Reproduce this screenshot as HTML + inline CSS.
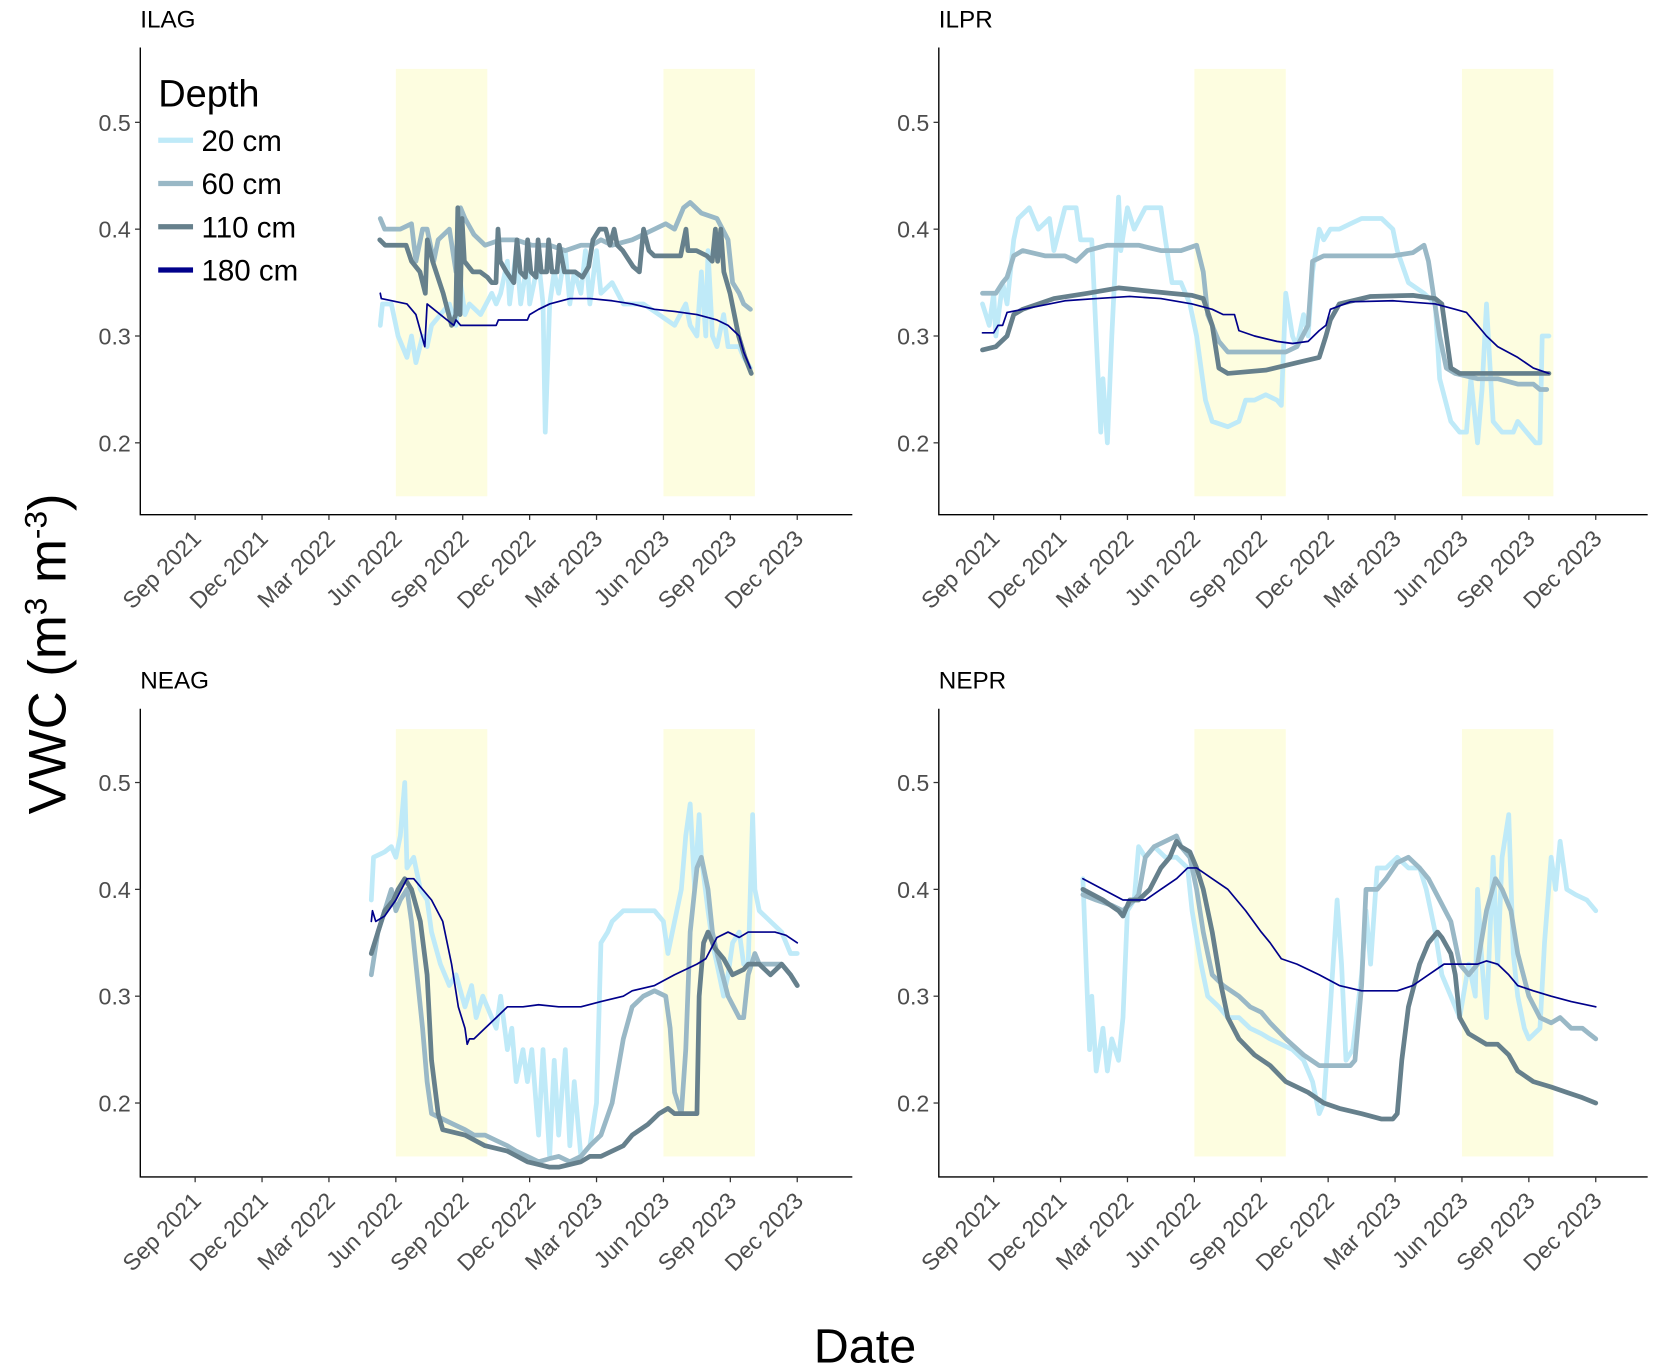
<!DOCTYPE html>
<html><head><meta charset="utf-8"><style>
html,body{margin:0;padding:0;background:#fff;}
svg{display:block;font-family:"Liberation Sans",Arial,sans-serif;}
</style></head><body>
<svg id="chart" width="1654" height="1371" viewBox="0 0 1568 1300" preserveAspectRatio="none" xmlns="http://www.w3.org/2000/svg"></svg>
<script>
// x values: months since 1 Sep 2021 (0 = Sep 2021, 3 = Dec 2021, ...)
const tickMonths = [0,3,6,9,12,15,18,21,24,27];
const tickLabels = ["Sep 2021","Dec 2021","Mar 2022","Jun 2022","Sep 2022","Dec 2022","Mar 2023","Jun 2023","Sep 2023","Dec 2023"];
const yTicks = [0.2,0.3,0.4,0.5];
const summerStart = [9,21];
const summerEnd = [13.1,25.1];
const depthLabels = ["20 cm","60 cm","110 cm","180 cm"];
const panelNames = ["ILAG","ILPR","NEAG","NEPR"];

const ilag20 = [[8.3,.31],[8.4,.33],[8.8,.33],[9.1,.30],[9.5,.28],[9.7,.30],[9.9,.275],[10.2,.30],[10.4,.29],[10.6,.31],[11.0,.32],[11.4,.33],[11.7,.31],[11.9,.35],[12.1,.32],[12.3,.33],[12.8,.32],[13.3,.34],[13.5,.33],[13.7,.34],[14.0,.37],[14.1,.33],[14.4,.38],[14.6,.33],[14.9,.37],[15.0,.33],[15.4,.37],[15.6,.33],[15.7,.21],[15.9,.33],[16.1,.36],[16.3,.34],[16.6,.38],[16.8,.33],[17.0,.36],[17.3,.34],[17.5,.38],[17.7,.33],[18.0,.38],[18.2,.34],[18.7,.35],[19.2,.33],[19.6,.33],[20.1,.33],[20.8,.32],[21.5,.31],[22.0,.33],[22.2,.31],[22.5,.30],[22.7,.36],[22.9,.30],[23.0,.38],[23.2,.30],[23.4,.29],[23.7,.32],[23.9,.29],[24.4,.29],[24.6,.28],[24.9,.27]];
const ilag60 = [[8.3,.41],[8.5,.40],[9.2,.40],[9.7,.405],[9.9,.37],[10.2,.40],[10.4,.40],[10.7,.37],[10.9,.39],[11.4,.40],[11.7,.36],[11.9,.42],[12.1,.41],[12.5,.395],[13.0,.385],[13.7,.39],[14.4,.39],[15.1,.385],[15.9,.385],[16.6,.38],[17.3,.385],[17.8,.385],[18.2,.39],[18.7,.385],[19.6,.39],[20.6,.40],[21.1,.405],[21.5,.40],[21.9,.42],[22.2,.425],[22.7,.415],[23.4,.41],[23.9,.39],[24.1,.35],[24.4,.34],[24.6,.33],[24.9,.325]];
const ilag110 = [[8.28,.39],[8.52,.385],[9.46,.385],[9.70,.37],[10.08,.36],[10.32,.34],[10.41,.39],[10.65,.37],[11.12,.34],[11.50,.31],[11.69,.32],[11.78,.42],[11.88,.32],[11.97,.41],[12.07,.37],[12.45,.36],[12.78,.36],[13.11,.355],[13.30,.35],[13.49,.35],[13.58,.40],[13.68,.37],[13.96,.36],[14.29,.35],[14.43,.39],[14.58,.36],[14.81,.355],[14.91,.39],[15.05,.36],[15.29,.355],[15.38,.39],[15.52,.36],[15.76,.36],[15.85,.39],[16.00,.36],[16.23,.36],[16.33,.385],[16.56,.36],[17.04,.36],[17.37,.355],[17.65,.365],[17.84,.39],[18.13,.40],[18.41,.40],[18.60,.385],[18.79,.40],[18.93,.385],[19.17,.38],[19.64,.365],[19.92,.36],[20.11,.40],[20.35,.38],[20.59,.375],[20.97,.375],[21.77,.375],[22.01,.40],[22.10,.38],[22.48,.38],[22.95,.375],[23.19,.37],[23.33,.40],[23.43,.37],[23.57,.40],[23.71,.36],[23.99,.34],[24.37,.30],[24.66,.28],[24.94,.265]];
const ilag180 = [[8.3,.34],[8.35,.335],[9.5,.33],[9.9,.32],[10.3,.29],[10.4,.33],[11.6,.31],[11.7,.315],[11.9,.31],[12.1,.31],[12.3,.31],[13.0,.31],[13.5,.31],[13.6,.315],[14.9,.315],[15.0,.32],[15.4,.325],[15.9,.33],[16.8,.335],[17.7,.335],[18.7,.333],[19.6,.33],[20.6,.325],[21.5,.323],[22.5,.32],[23.4,.315],[23.9,.31],[24.4,.30],[24.6,.285],[24.9,.27]];

const ilpr20 = [[-0.5,.33],[-0.2,.31],[0,.34],[0.1,.30],[0.4,.35],[0.6,.33],[0.9,.39],[1.1,.41],[1.6,.42],[2.0,.40],[2.5,.41],[2.7,.38],[3.2,.42],[3.7,.42],[3.9,.39],[4.4,.39],[4.6,.30],[4.8,.21],[4.9,.26],[5.1,.20],[5.3,.30],[5.6,.43],[5.7,.38],[6.0,.42],[6.3,.40],[6.8,.42],[7.5,.42],[7.7,.39],[8.0,.35],[8.4,.35],[8.8,.33],[9.1,.30],[9.5,.24],[9.8,.22],[10.5,.215],[11.0,.22],[11.3,.24],[11.7,.24],[12.2,.245],[12.7,.24],[12.9,.235],[13.1,.34],[13.4,.30],[13.6,.29],[13.9,.32],[14.1,.30],[14.3,.36],[14.6,.40],[14.8,.39],[15.1,.40],[15.5,.40],[16.0,.405],[16.5,.41],[16.9,.41],[17.4,.41],[17.9,.40],[18.1,.38],[18.6,.35],[19.3,.34],[19.8,.33],[20.0,.26],[20.5,.22],[20.9,.21],[21.2,.21],[21.4,.26],[21.7,.20],[21.9,.25],[22.1,.33],[22.4,.22],[22.8,.21],[23.3,.21],[23.5,.22],[23.9,.21],[24.3,.20],[24.5,.20],[24.6,.30],[24.9,.30]];
const ilpr60 = [[-0.5,.34],[0.1,.34],[0.4,.35],[0.6,.355],[0.9,.375],[1.3,.38],[2.3,.375],[3.2,.375],[3.7,.37],[4.2,.38],[5.1,.385],[6.5,.385],[7.5,.38],[8.4,.38],[9.1,.385],[9.4,.36],[9.6,.32],[10.1,.295],[10.5,.285],[11.3,.285],[12.2,.285],[13.1,.285],[13.6,.29],[14.1,.31],[14.3,.37],[14.8,.375],[15.7,.375],[16.9,.375],[17.9,.375],[18.8,.378],[19.3,.385],[19.5,.37],[20.0,.30],[20.3,.27],[20.7,.265],[21.7,.26],[22.6,.26],[23.5,.255],[24.2,.255],[24.5,.25],[24.8,.25]];
const ilpr110 = [[-0.5,.287],[0.1,.29],[0.6,.30],[0.9,.32],[1.3,.325],[2.7,.335],[4.2,.34],[5.6,.345],[6.5,.343],[7.9,.34],[8.9,.338],[9.4,.335],[9.8,.31],[10.1,.27],[10.5,.265],[12.2,.268],[13.6,.275],[14.6,.28],[14.9,.30],[15.1,.315],[15.5,.33],[16.9,.337],[18.8,.338],[19.8,.335],[20.1,.33],[20.5,.27],[20.9,.265],[22.6,.265],[24.9,.265]];
const ilpr180 = [[-0.5,.303],[0.0,.303],[0.2,.31],[0.4,.31],[0.6,.322],[1.8,.327],[3.2,.333],[4.6,.335],[6.1,.337],[7.5,.335],[8.9,.33],[9.8,.325],[10.3,.32],[10.8,.32],[11.0,.305],[11.7,.30],[12.7,.295],[13.4,.293],[14.1,.295],[14.6,.305],[14.9,.31],[15.1,.325],[16.0,.332],[17.9,.333],[19.8,.33],[20.7,.325],[21.2,.322],[21.7,.31],[22.1,.30],[22.6,.29],[23.5,.28],[24.2,.27],[24.9,.265]];

const neag20 = [[7.9,.39],[8.0,.43],[8.5,.435],[8.8,.44],[9.0,.43],[9.2,.45],[9.4,.50],[9.5,.42],[9.8,.43],[10.1,.40],[10.4,.39],[10.6,.36],[11.0,.33],[11.4,.31],[11.7,.32],[12.1,.29],[12.4,.31],[12.6,.28],[12.9,.30],[13.3,.28],[13.5,.27],[13.7,.30],[14.0,.25],[14.2,.27],[14.4,.22],[14.7,.25],[14.9,.22],[15.1,.25],[15.4,.17],[15.6,.25],[15.9,.15],[16.1,.24],[16.3,.17],[16.6,.25],[16.8,.16],[17.0,.22],[17.3,.15],[17.7,.16],[18.0,.20],[18.2,.35],[18.5,.36],[18.7,.37],[19.2,.38],[19.6,.38],[20.1,.38],[20.6,.38],[21.0,.37],[21.2,.34],[21.5,.37],[21.8,.40],[22.0,.45],[22.2,.48],[22.4,.40],[22.6,.47],[22.7,.43],[23.0,.38],[23.2,.35],[23.4,.33],[23.7,.30],[23.9,.32],[24.1,.35],[24.4,.36],[24.6,.33],[24.8,.33],[25.0,.47],[25.1,.40],[25.3,.38],[25.8,.37],[26.3,.36],[26.7,.34],[27.0,.34]];
const neag60 = [[7.9,.32],[8.2,.36],[8.5,.38],[8.8,.40],[9.0,.38],[9.2,.39],[9.5,.40],[9.7,.37],[9.9,.33],[10.2,.27],[10.4,.22],[10.6,.19],[11.1,.185],[11.6,.18],[12.1,.175],[12.5,.17],[13.0,.17],[13.5,.165],[14.0,.16],[14.4,.155],[14.9,.15],[15.4,.145],[15.9,.148],[16.3,.15],[16.8,.145],[17.3,.15],[17.7,.16],[18.2,.17],[18.7,.20],[19.2,.26],[19.6,.29],[20.1,.30],[20.6,.305],[21.1,.30],[21.3,.27],[21.5,.21],[21.8,.19],[22.0,.25],[22.2,.36],[22.5,.42],[22.7,.43],[23.0,.40],[23.2,.36],[23.4,.34],[23.9,.30],[24.4,.28],[24.6,.28],[24.8,.32],[25.1,.34],[25.3,.33],[25.8,.33],[26.3,.33],[26.7,.32],[27.0,.31]];
const neag110 = [[7.9,.34],[8.2,.36],[8.5,.38],[8.9,.39],[9.1,.40],[9.4,.41],[9.7,.40],[10.1,.37],[10.4,.32],[10.6,.24],[10.9,.19],[11.1,.175],[12.1,.17],[13.0,.16],[14.0,.155],[14.9,.145],[15.9,.14],[16.3,.14],[17.3,.145],[17.7,.15],[18.2,.15],[19.2,.16],[19.6,.17],[20.3,.18],[20.8,.19],[21.2,.195],[21.5,.19],[22.0,.19],[22.2,.19],[22.5,.19],[22.6,.30],[22.8,.35],[23.0,.36],[23.3,.345],[23.7,.335],[24.1,.32],[24.6,.325],[24.8,.33],[25.3,.33],[25.8,.32],[26.3,.33],[26.7,.32],[27.0,.31]];
const neag180 = [[7.9,.37],[7.95,.38],[8.1,.37],[8.5,.375],[9.0,.39],[9.5,.41],[9.8,.41],[10.2,.40],[10.6,.39],[11.1,.37],[11.5,.33],[11.8,.29],[12.1,.27],[12.2,.255],[12.3,.26],[12.5,.26],[13.0,.27],[13.5,.28],[14.0,.29],[14.7,.29],[15.4,.292],[16.3,.29],[17.3,.29],[18.2,.295],[19.2,.30],[19.6,.305],[20.6,.31],[21.5,.32],[22.5,.33],[22.9,.335],[23.4,.355],[23.9,.36],[24.4,.355],[24.8,.36],[25.3,.36],[26.0,.36],[26.5,.357],[27.0,.35]];

const nepr20 = [[4.0,.41],[4.2,.30],[4.3,.25],[4.4,.30],[4.6,.23],[4.9,.27],[5.1,.23],[5.3,.26],[5.6,.24],[5.8,.28],[6.0,.38],[6.3,.39],[6.5,.44],[6.8,.43],[7.2,.44],[7.7,.43],[8.2,.43],[8.7,.42],[8.9,.38],[9.3,.33],[9.6,.30],[10.1,.29],[10.5,.28],[11.0,.28],[11.5,.27],[12.0,.265],[12.4,.26],[12.9,.255],[13.4,.25],[13.9,.24],[14.3,.22],[14.6,.19],[14.8,.20],[15.1,.29],[15.4,.39],[15.6,.33],[15.8,.24],[16.1,.25],[16.5,.32],[16.7,.38],[16.9,.33],[17.2,.42],[17.6,.42],[18.1,.43],[18.6,.42],[19.1,.42],[19.4,.40],[19.8,.36],[20.1,.32],[20.5,.30],[20.9,.28],[21.3,.33],[21.6,.30],[21.7,.40],[21.9,.33],[22.1,.28],[22.4,.43],[22.6,.33],[22.8,.43],[23.1,.47],[23.3,.34],[23.5,.30],[23.8,.27],[24.0,.26],[24.5,.27],[24.7,.35],[25.0,.43],[25.2,.40],[25.4,.445],[25.7,.40],[26.1,.395],[26.6,.39],[27.0,.38]];
const nepr60 = [[4.0,.395],[4.6,.39],[5.3,.385],[5.8,.38],[6.3,.39],[6.5,.395],[6.8,.43],[7.2,.44],[7.7,.445],[8.2,.45],[8.4,.44],[8.8,.43],[9.1,.40],[9.4,.36],[9.6,.34],[9.8,.32],[10.3,.31],[11.0,.30],[11.5,.29],[12.0,.285],[12.4,.275],[13.1,.26],[13.9,.245],[14.6,.235],[15.3,.235],[16.0,.235],[16.2,.24],[16.5,.31],[16.7,.40],[17.2,.40],[17.6,.41],[18.1,.425],[18.6,.43],[19.1,.42],[19.5,.41],[20.0,.39],[20.5,.37],[20.9,.33],[21.3,.32],[21.7,.33],[22.1,.38],[22.5,.41],[22.8,.40],[23.2,.38],[23.5,.34],[24.0,.30],[24.5,.28],[25.0,.275],[25.4,.28],[25.9,.27],[26.4,.27],[26.7,.265],[27.0,.26]];
const nepr110 = [[4.0,.40],[4.9,.39],[5.6,.38],[5.8,.375],[6.1,.39],[6.5,.39],[7.0,.40],[7.5,.42],[7.9,.43],[8.2,.445],[8.4,.44],[8.8,.435],[9.1,.42],[9.4,.40],[9.8,.36],[10.2,.31],[10.5,.28],[11.0,.26],[11.7,.245],[12.4,.235],[13.1,.22],[14.1,.21],[14.8,.20],[15.5,.195],[16.5,.19],[17.4,.185],[17.9,.185],[18.1,.19],[18.3,.24],[18.6,.29],[19.1,.33],[19.5,.35],[19.9,.36],[20.1,.355],[20.5,.34],[20.7,.32],[20.9,.28],[21.3,.265],[21.7,.26],[22.1,.255],[22.6,.255],[23.1,.245],[23.5,.23],[24.2,.22],[25.0,.215],[25.7,.21],[26.4,.205],[27.0,.20]];
const nepr180 = [[4.0,.41],[4.9,.40],[5.8,.39],[6.8,.39],[7.5,.40],[8.2,.41],[8.7,.42],[9.1,.42],[9.8,.41],[10.5,.40],[11.3,.38],[12.0,.36],[12.4,.35],[12.9,.335],[13.6,.33],[14.6,.32],[15.5,.31],[16.5,.305],[17.4,.305],[18.1,.305],[18.8,.31],[19.5,.32],[20.2,.33],[20.9,.33],[21.7,.33],[22.1,.333],[22.6,.33],[23.1,.32],[23.5,.31],[24.2,.305],[25.0,.30],[25.9,.295],[27.0,.29]];

const panelSeries = [[ilag20,ilag60,ilag110,ilag180],[ilpr20,ilpr60,ilpr110,ilpr180],[neag20,neag60,neag110,neag180],[nepr20,nepr60,nepr110,nepr180]];

const NS="http://www.w3.org/2000/svg";
const svg=document.getElementById('chart');
const colors=["#bfeaf8","#99b8c6","#66808c","#00008b"];
const widths=[4.5,4.5,4.5,1.6];
const panels=[{x0:133,x1:808,y0:45,y1:488,sep:185,yv5:116},{x0:890,x1:1562,y0:45,y1:488,sep:942,yv5:116},{x0:133,x1:808,y0:672,y1:1116,sep:185,yv5:742},{x0:890,x1:1562,y0:672,y1:1116,sep:942,yv5:742}];
function mk(tag,attrs,parent){const e=document.createElementNS(NS,tag);for(const k in attrs)e.setAttribute(k,attrs[k]);(parent||svg).appendChild(e);return e;}

panels.forEach((p,pi)=>{
  const xs=t=>p.sep+t*21.14;
  const ys=v=>p.yv5+(0.5-v)*1013;
  const g=mk('g',{});
  
  
  for(let i=0;i<summerStart.length;i++){
    const r=mk('rect',{x:xs(summerStart[i]),y:ys(0.55),width:xs(summerEnd[i])-xs(summerStart[i]),height:ys(0.15)-ys(0.55),fill:"#fdfde0"},g);
    
    
  }
  panelSeries[pi].forEach((s,si)=>{
    const d=s.map((pt,i)=>(i?'L':'M')+xs(pt[0]).toFixed(1)+','+ys(pt[1]).toFixed(1)).join('');
    const path=mk('path',{d:d,fill:'none',stroke:colors[si],'stroke-width':widths[si],'stroke-linejoin':'round','stroke-linecap':'round'},g);
    
    
  });
  const ax=mk('path',{d:`M${p.x0},${p.y0}V${p.y1}H${p.x1}`,fill:'none',stroke:'#000','stroke-width':1.3},g);
  
  
  yTicks.forEach(v=>{
    mk('line',{x1:p.x0-5,x2:p.x0,y1:ys(v),y2:ys(v),stroke:'#333','stroke-width':1.2},g);
    const t=mk('text',{x:p.x0-9,y:ys(v)+8,'text-anchor':'end','font-size':22,fill:'#4d4d4d'},g);
    t.textContent=v.toFixed(1);
    
    
  });
  tickMonths.forEach((m,i)=>{
    const x=xs(m);
    mk('line',{x1:x,x2:x,y1:p.y1,y2:p.y1+5,stroke:'#333','stroke-width':1.2},g);
    const ax2=x+7, ay2=p.y1+24;
    const t=mk('text',{x:ax2,y:ay2,'text-anchor':'end','font-size':22,fill:'#4d4d4d',transform:`rotate(-45 ${ax2} ${ay2})`},g);
    t.textContent=tickLabels[i];
    
    
  });
  const title=mk('text',{x:p.x0,y:p.y0-19,'font-size':23,fill:'#000'},g);
  title.textContent=panelNames[pi];
  
  
});

// legend
const lg=mk('g',{});


const lt=mk('text',{x:150,y:101,'font-size':36,fill:'#000'},lg);
lt.textContent="Depth";
depthLabels.forEach((l,i)=>{
  const y=133+i*41;
  mk('line',{x1:150,x2:183,y1:y,y2:y,stroke:colors[i],'stroke-width':5},lg);
  const t=mk('text',{x:191,y:y+10,'font-size':28,fill:'#000'},lg);
  t.textContent=l;
  
  
});

const xt=mk('text',{x:820,y:1292,'text-anchor':'middle','font-size':46,fill:'#000'});
xt.textContent="Date";


const yt=mk('text',{x:62,y:620,'text-anchor':'middle','font-size':50,fill:'#000',transform:'rotate(-90 62 620)'});
yt.innerHTML='VWC (m<tspan dy="-18" font-size="30">3</tspan><tspan dy="18"> m</tspan><tspan dy="-18" font-size="30">-3</tspan><tspan dy="18">)</tspan>';


</script>
</body></html>
